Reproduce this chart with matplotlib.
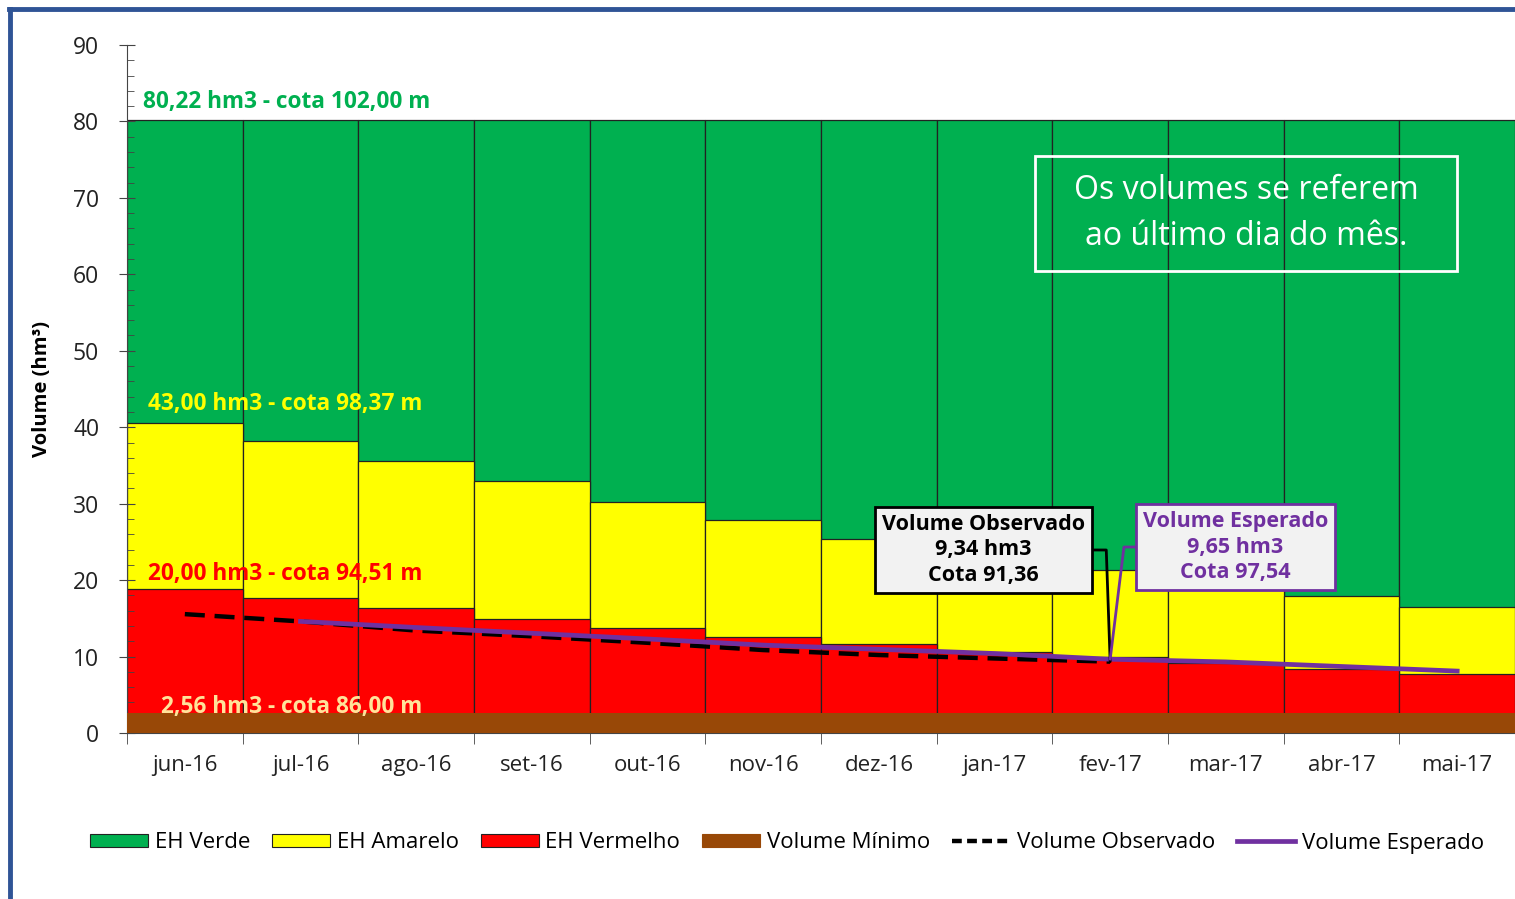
import numpy as np
import matplotlib
matplotlib.use('Agg')
import matplotlib.pyplot as plt
from matplotlib.patches import Patch, Rectangle
from matplotlib.lines import Line2D

plt.rcParams['font.family'] = ['Open Sans', 'DejaVu Sans']

# data
months = ['jun-16', 'jul-16', 'ago-16', 'set-16', 'out-16', 'nov-16',
          'dez-16', 'jan-17', 'fev-17', 'mar-17', 'abr-17', 'mai-17']
verde_top = [80.22] * 12
amarelo_top = [40.6, 38.2, 35.6, 33.0, 30.2, 27.9, 25.4, 23.4, 21.3, 19.6, 17.9, 16.5]
vermelho_top = [18.8, 17.6, 16.3, 14.9, 13.8, 12.6, 11.6, 10.6, 9.9, 9.2, 8.4, 7.7]
volume_minimo = 2.56
observado = [15.55, 14.6, 13.4, 12.65, 11.8, 10.85, 10.2, 9.75, 9.34]          # jun-16 .. fev-17
esperado = [14.6, 13.8, 13.05, 12.3, 11.5, 10.95, 10.4, 9.65, 9.3, 8.7, 8.1]   # jul-16 .. mai-17

niveis = [(80.22, '80,22 hm3 - cota 102,00 m', '#00B050'),
          (43.00, '43,00 hm3 - cota 98,37 m', '#FFFF00'),
          (20.00, '20,00 hm3 - cota 94,51 m', '#FF0000'),
          (2.56, '2,56 hm3 - cota 86,00 m', '#FFE39A')]

VERDE = '#00B050'
AMARELO = '#FFFF00'
VERMELHO = '#FF0000'
MARROM = '#984807'
ROXO = '#7030A0'

W, H = 1515, 899
fig = plt.figure(figsize=(W / 100, H / 100), dpi=100)
ax = fig.add_axes([127 / W, 1 - 733 / H, 1 - 127 / W, (733 - 45) / H])

x = np.arange(len(months))
kw = dict(width=1.0, edgecolor='#222222', linewidth=0.9)
ax.bar(x, verde_top, color=VERDE, **kw)
ax.bar(x, amarelo_top, color=AMARELO, **kw)
ax.bar(x, vermelho_top, color=VERMELHO, **kw)
ax.fill_between([-0.5, len(months) - 0.5], 0, volume_minimo, color=MARROM, lw=0, zorder=3)

ax.plot(x[:len(observado)], observado, color='black', lw=3.2, dashes=(4.5, 2.2), zorder=4)
ax.plot(x[1:1 + len(esperado)], esperado, color=ROXO, lw=3.4, zorder=5)

ax.set_xlim(-0.5, len(months) - 0.5)
ax.set_ylim(0, 90)
ax.set_yticks(np.arange(0, 91, 10))
ax.set_yticks(np.arange(0, 91, 2), minor=True)
ax.set_xticks(x)
ax.set_xticklabels(months)
ax.set_xticks(np.arange(-0.5, len(months)), minor=True)
ax.tick_params(axis='x', which='major', length=0, pad=16, labelsize=16, labelcolor='#222222')
ax.tick_params(axis='x', which='minor', length=8, direction='out', color='#444444')
ax.tick_params(axis='y', which='major', length=12, direction='inout', pad=14, labelsize=16.5,
               labelcolor='#222222', color='#444444')
ax.tick_params(axis='y', which='minor', length=5, direction='in', color='#444444')
for s in ['top', 'right']:
    ax.spines[s].set_visible(False)
ax.spines['left'].set_color('#444444')
ax.spines['bottom'].set_color('#444444')
ax.set_ylabel('Volume (hm³)', fontsize=14.5, fontweight='bold')
ax.yaxis.set_label_coords(-0.054, 0.5)

# level labels
offs = {80.22: (0.14, 2.3), 43.00: (0.18, 0.0), 20.00: (0.18, 0.8), 2.56: (0.29, 0.8)}
for val, txt, col in niveis:
    dx, dy = offs[val]
    ax.text(-0.5 + dx, val + dy, txt, color=col, fontsize=16.3, fontweight='bold',
            va='center', ha='left', zorder=6)

# callouts
ax.annotate('Volume Observado\n9,34 hm3\nCota 91,36', xy=(8, observado[-1]), xytext=(6.905, 23.94),
            ha='center', va='center', fontsize=15.5, fontweight='bold', color='black',
            linespacing=1.3, zorder=7,
            bbox=dict(boxstyle='square,pad=0.3', fc='#F2F2F2', ec='black', lw=2),
            arrowprops=dict(arrowstyle='-', color='black', lw=2, shrinkA=0, shrinkB=0,
                            relpos=(1, 0.5), connectionstyle='angle,angleA=0,angleB=92,rad=0'))
ax.annotate('Volume Esperado\n9,65 hm3\nCota 97,54', xy=(8, esperado[7]), xytext=(9.083, 24.33),
            ha='center', va='center', fontsize=15.5, fontweight='bold', color=ROXO,
            linespacing=1.3, zorder=7,
            bbox=dict(boxstyle='square,pad=0.3', fc='#F2F2F2', ec=ROXO, lw=2),
            arrowprops=dict(arrowstyle='-', color=ROXO, lw=2, shrinkA=0, shrinkB=0,
                            relpos=(0, 0.5), connectionstyle='angle,angleA=0,angleB=83,rad=0'))

# note box
ax.add_patch(Rectangle((7.35, 60.44), 10.998 - 7.35, 75.48 - 60.44, fill=False, ec='white', lw=2, zorder=6))
ax.text(9.174, 67.96, 'Os volumes se referem\nao último dia do mês.', color='white', fontsize=23,
        ha='center', va='center', linespacing=1.5, zorder=7)

handles = [Patch(fc=VERDE, ec='#222222', lw=0.8, label='EH Verde'),
           Patch(fc=AMARELO, ec='#222222', lw=0.8, label='EH Amarelo'),
           Patch(fc=VERMELHO, ec='#222222', lw=0.8, label='EH Vermelho'),
           Patch(fc=MARROM, ec=MARROM, lw=0.8, label='Volume Mínimo'),
           Line2D([], [], color='black', lw=3.2, dashes=(2.2, 1.2), label='Volume Observado'),
           Line2D([], [], color=ROXO, lw=3.4, label='Volume Esperado')]
fig.legend(handles=handles, loc='center', bbox_to_anchor=(787 / W, 1 - 843 / H), ncol=6,
           frameon=False, fontsize=16, handlelength=2.6, handleheight=0.55,
           handletextpad=0.3, columnspacing=1.0)

# blue frame of the slide
fig.add_artist(Line2D([9 / W, 1], [1 - 9 / H, 1 - 9 / H], color='#2F5496', lw=3.5))
fig.add_artist(Line2D([10 / W, 10 / W], [0, 1 - 9 / H], color='#2F5496', lw=3.5))

fig.savefig('out.png', dpi=100)
